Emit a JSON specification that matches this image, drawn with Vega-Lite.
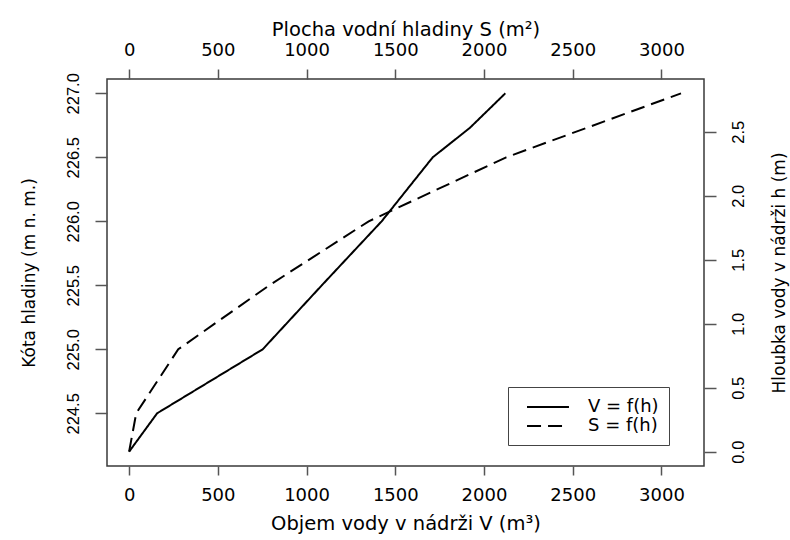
{
  "$schema": "https://vega.github.io/schema/vega-lite/v6.json",
  "width": 597,
  "height": 387,
  "autosize": {"type": "none"},
  "padding": {"left": 107, "top": 79, "right": 86, "bottom": 74},
  "background": "white",
  "config": {
    "view": {"stroke": "#3a3a3a", "strokeWidth": 1.5},
    "axis": {
      "grid": false,
      "domain": false,
      "tickColor": "#555555",
      "tickWidth": 1.5,
      "labelColor": "black",
      "titleColor": "black",
      "labelFont": "DejaVu Sans",
      "titleFont": "DejaVu Sans",
      "titleFontWeight": "normal",
      "labelFontSize": 18,
      "titleFontSize": 19.5
    }
  },
  "datasets": {
    "curves": [
      {"series": "V = f(h)", "elev": 224.2, "depth": 0.0, "value": 0},
      {"series": "V = f(h)", "elev": 224.5, "depth": 0.3, "value": 158},
      {"series": "V = f(h)", "elev": 225.0, "depth": 0.8, "value": 753},
      {"series": "V = f(h)", "elev": 225.5, "depth": 1.3, "value": 1086},
      {"series": "V = f(h)", "elev": 226.0, "depth": 1.8, "value": 1423},
      {"series": "V = f(h)", "elev": 226.5, "depth": 2.3, "value": 1711},
      {"series": "V = f(h)", "elev": 226.73, "depth": 2.53, "value": 1920},
      {"series": "V = f(h)", "elev": 227.0, "depth": 2.8, "value": 2120},
      {"series": "S = f(h)", "elev": 224.2, "depth": 0.0, "value": 0},
      {"series": "S = f(h)", "elev": 224.5, "depth": 0.3, "value": 40},
      {"series": "S = f(h)", "elev": 225.0, "depth": 0.8, "value": 277},
      {"series": "S = f(h)", "elev": 225.5, "depth": 1.3, "value": 790},
      {"series": "S = f(h)", "elev": 226.0, "depth": 1.8, "value": 1350},
      {"series": "S = f(h)", "elev": 226.5, "depth": 2.3, "value": 2125},
      {"series": "S = f(h)", "elev": 227.0, "depth": 2.8, "value": 3110}
    ]
  },
  "data": {"name": "curves"},
  "layer": [
    {
      "mark": {"type": "line", "color": "black", "strokeWidth": 2},
      "encoding": {
        "x": {
          "field": "value",
          "type": "quantitative",
          "scale": {"domain": [-124.6, 3239.6], "nice": false, "zero": false},
          "axis": {
            "orient": "bottom",
            "values": [0, 500, 1000, 1500, 2000, 2500, 3000],
            "format": "d",
            "title": "Objem vody v nádrži V (m³)",
            "tickSize": 9,
            "labelPadding": 11,
            "titlePadding": 10
          }
        },
        "y": {
          "field": "elev",
          "type": "quantitative",
          "scale": {"domain": [224.088, 227.112], "nice": false, "zero": false},
          "axis": {
            "orient": "left",
            "values": [224.5, 225.0, 225.5, 226.0, 226.5, 227.0],
            "format": ".1f",
            "labelAngle": 270,
            "labelFont": "Liberation Sans",
            "labelFontSize": 16.5,
            "tickSize": 12,
            "labelPadding": 14,
            "title": "Kóta hladiny (m n. m.)",
            "titleFontSize": 17,
            "titlePadding": 27
          }
        },
        "strokeDash": {
          "field": "series",
          "type": "nominal",
          "scale": {"domain": ["V = f(h)", "S = f(h)"], "range": [[1, 0], [14, 7]]},
          "legend": {
            "title": null,
            "orient": "none",
            "legendX": 401,
            "legendY": 308,
            "strokeColor": "#444444",
            "fillColor": "white",
            "padding": 10,
            "symbolType": "M-2.33,0H2.33",
            "symbolSize": 324,
            "symbolStrokeWidth": 2,
            "symbolStrokeColor": "black",
            "symbolOffset": 20,
            "labelOffset": 30,
            "labelFont": "DejaVu Sans",
            "labelFontSize": 18,
            "labelColor": "black",
            "rowPadding": 0
          }
        },
        "order": {"field": "elev", "type": "quantitative"}
      }
    },
    {
      "mark": {"type": "point", "opacity": 0},
      "encoding": {
        "x": {
          "field": "value",
          "type": "quantitative",
          "scale": {"domain": [-124.6, 3239.6], "nice": false, "zero": false},
          "axis": {
            "orient": "top",
            "values": [0, 500, 1000, 1500, 2000, 2500, 3000],
            "format": "d",
            "title": "Plocha vodní hladiny S (m²)",
            "tickSize": 10,
            "labelPadding": 10,
            "titlePadding": 2
          }
        },
        "y": {
          "field": "depth",
          "type": "quantitative",
          "scale": {"domain": [-0.112, 2.912], "nice": false, "zero": false},
          "axis": {
            "orient": "right",
            "values": [0, 0.5, 1.0, 1.5, 2.0, 2.5],
            "format": ".1f",
            "labelAngle": 270,
            "labelFont": "Liberation Sans",
            "labelFontSize": 16.5,
            "tickSize": 12,
            "labelPadding": 14,
            "title": "Hloubka vody v nádrži h (m)",
            "titleAngle": 270,
            "titleFontSize": 17,
            "titlePadding": 42
          }
        }
      }
    }
  ],
  "resolve": {"scale": {"x": "independent", "y": "independent"}}
}
